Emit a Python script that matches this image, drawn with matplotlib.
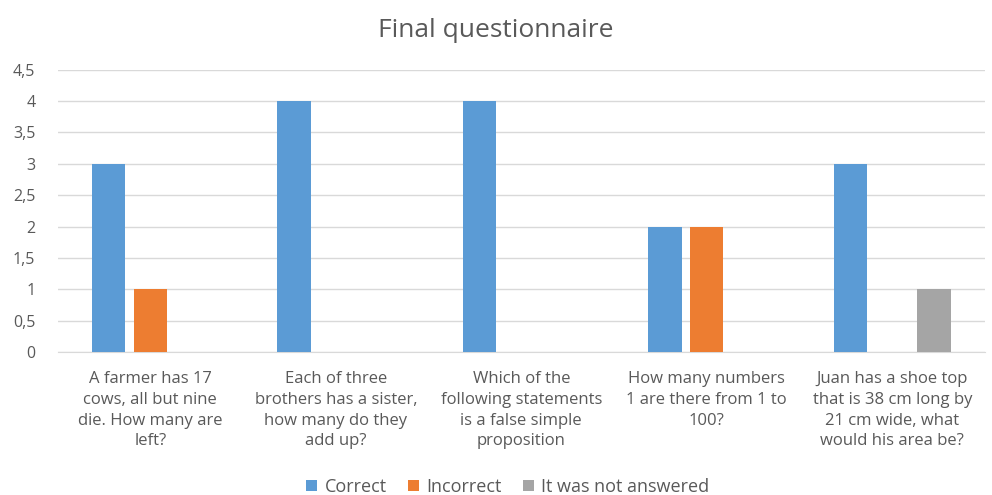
import matplotlib.pyplot as plt
import numpy as np

plt.rcParams['font.family'] = ['Open Sans', 'DejaVu Sans']

questions = ['A farmer has 17\ncows, all but nine\ndie. How many are\nleft?',
             'Each of three\nbrothers has a sister,\nhow many do they\nadd up?',
             'Which of the\nfollowing statements\nis a false simple\nproposition',
             'How many numbers\n1 are there from 1 to\n100?',
             'Juan has a shoe top\nthat is 38 cm long by\n21 cm wide, what\nwould his area be?']
correct = [3, 4, 4, 2, 3]
incorrect = [1, 0, 0, 2, 0]
not_answered = [0, 0, 0, 0, 1]
series_names = ['Correct', 'Incorrect', 'It was not answered']
colors = ['#5B9BD5', '#ED7D31', '#A5A5A5']
yticks = [0, 0.5, 1, 1.5, 2, 2.5, 3, 3.5, 4, 4.5]

fig = plt.figure(figsize=(9.92, 4.95), dpi=100)
ax = fig.add_axes([0.058, 0.289, 0.935, 0.570])

x = np.arange(len(questions))
w = 0.18
off = 0.225
for i, (vals, name, c) in enumerate(zip([correct, incorrect, not_answered], series_names, colors)):
    ax.bar(x + (i - 1) * off, vals, width=w, color=c, label=name, zorder=3)

ax.set_xlim(-0.5, len(questions) - 0.5)
ax.set_ylim(0, 4.5)
ax.set_yticks(yticks)
ax.set_yticklabels([('%g' % t).replace('.', ',') for t in yticks])
ax.grid(axis='y', color='#d9d9d9', linewidth=1, zorder=0)
for s in ['top', 'right', 'left']:
    ax.spines[s].set_visible(False)
ax.spines['bottom'].set_color('#d9d9d9')
ax.tick_params(axis='both', length=0, colors='#595959')
ax.tick_params(axis='y', pad=16, labelsize=11.5)
ax.set_xticks(x)
ax.set_xticklabels(questions, linespacing=1.38, fontsize=12)
ax.tick_params(axis='x', pad=14)

fig.text(0.5, 0.938, 'Final questionnaire', ha='center', va='center', fontsize=19, color='#595959')
fig.legend(loc='lower center', bbox_to_anchor=(0.512, -0.035), ncol=3, frameon=False,
           fontsize=13, labelcolor='#595959', handlelength=0.6, handleheight=0.6,
           columnspacing=1.2, handletextpad=0.4)

plt.savefig('out.png', dpi=100)
